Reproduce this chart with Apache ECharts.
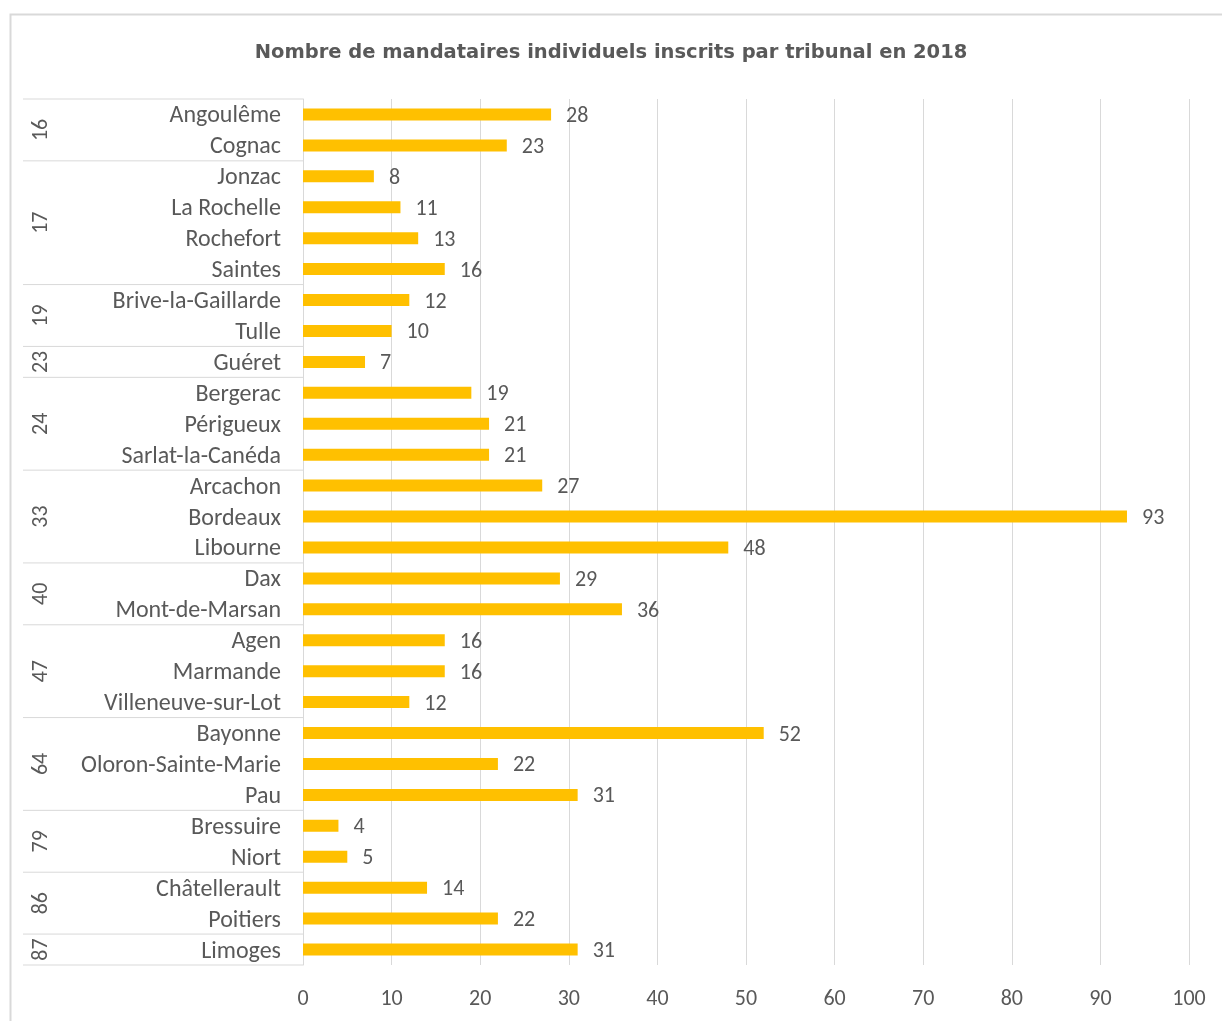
<!DOCTYPE html>
<html>
<head>
<meta charset="utf-8">
<title>Mandataires individuels 2018</title>
<script src="https://cdn.jsdelivr.net/npm/echarts@6/dist/echarts.min.js"></script>
<style>
  html, body { margin: 0; padding: 0; background: #fff; }
  #chart { width: 1222px; height: 1021px; }
</style>
</head>
<body>
<div id="chart"></div>
<script>
// tribunaux, dans l'ordre du graphique (de haut en bas)
const tribunaux = [
  'Angoulême', 'Cognac',
  'Jonzac', 'La Rochelle', 'Rochefort', 'Saintes',
  'Brive-la-Gaillarde', 'Tulle',
  'Guéret',
  'Bergerac', 'Périgueux', 'Sarlat-la-Canéda',
  'Arcachon', 'Bordeaux', 'Libourne',
  'Dax', 'Mont-de-Marsan',
  'Agen', 'Marmande', 'Villeneuve-sur-Lot',
  'Bayonne', 'Oloron-Sainte-Marie', 'Pau',
  'Bressuire', 'Niort',
  'Châtellerault', 'Poitiers',
  'Limoges'
];
const mandataires = [
  28, 23,
  8, 11, 13, 16,
  12, 10,
  7,
  19, 21, 21,
  27, 93, 48,
  29, 36,
  16, 16, 12,
  52, 22, 31,
  4, 5,
  14, 22,
  31
];
// départements et nombre de tribunaux par département
const departements = ['16', '17', '19', '23', '24', '33', '40', '47', '64', '79', '86', '87'];
const tailleGroupes = [2, 4, 2, 1, 3, 3, 2, 3, 3, 2, 2, 1];

const FONT = 'Carlito, Lato, sans-serif';
const GRIS = '#595959';
const LIGNE = '#D9D9D9';
const LARGEUR_LIBELLES = 280;

// [0, premier index, dernier index] pour chaque département
const groupes = [];
let debut = 0;
tailleGroupes.forEach(n => {
  groupes.push([0, debut, debut + n - 1]);
  debut += n;
});

function dessinerGroupe(params, api) {
  const bande = api.size([0, 1])[1];
  const haut = api.coord([0, api.value(1)]);
  const bas = api.coord([0, api.value(2)]);
  const x0 = haut[0];
  const y0 = haut[1] - bande / 2;
  const y1 = bas[1] + bande / 2;
  const enfants = [
    {
      type: 'line',
      shape: { x1: x0 - LARGEUR_LIBELLES, y1: y0, x2: x0, y2: y0 },
      style: { stroke: LIGNE, lineWidth: 1 }
    },
    {
      type: 'text',
      x: x0 - 262,
      y: (y0 + y1) / 2,
      rotation: Math.PI / 2,
      style: {
        text: departements[params.dataIndex],
        x: 0, y: 0,
        align: 'center',
        verticalAlign: 'middle',
        fill: GRIS,
        font: '22px ' + FONT
      }
    }
  ];
  if (params.dataIndex === groupes.length - 1) {
    enfants.push({
      type: 'line',
      shape: { x1: x0 - LARGEUR_LIBELLES, y1: y1, x2: x0, y2: y1 },
      style: { stroke: LIGNE, lineWidth: 1 }
    });
  }
  return { type: 'group', children: enfants };
}

const chart = echarts.init(document.getElementById('chart'));
chart.setOption({
  backgroundColor: '#fff',
  animation: false,
  title: {
    text: 'Nombre de mandataires individuels inscrits par tribunal en 2018',
    left: 'center',
    top: 38,
    textStyle: { color: GRIS, fontSize: 19.5, fontWeight: 'bold', fontFamily: '"DejaVu Sans", sans-serif' }
  },
  graphic: [{
    type: 'rect',
    shape: { x: 10.5, y: 14.5, width: 1300, height: 1100 },
    style: { fill: 'none', stroke: LIGNE, lineWidth: 2 },
    silent: true
  }],
  grid: { left: 303, right: 33, top: 99, bottom: 56 },
  xAxis: {
    type: 'value',
    min: 0,
    max: 100,
    interval: 10,
    axisLine: { show: false },
    axisTick: { show: false },
    axisLabel: { color: GRIS, fontSize: 22, fontFamily: FONT, margin: 23 },
    splitLine: { lineStyle: { color: LIGNE, width: 1 } }
  },
  yAxis: {
    type: 'category',
    inverse: true,
    data: tribunaux,
    axisLine: { show: true, lineStyle: { color: LIGNE, width: 1 } },
    axisTick: { show: false },
    axisLabel: {
      interval: 0,
      hideOverlap: false,
      margin: 22,
      formatter: v => '{t|' + v + '}',
      rich: {
        t: {
          color: GRIS,
          fontSize: 24,
          lineHeight: 24,
          fontFamily: FONT,
          padding: [4, 0, 0, 0]
        }
      }
    }
  },
  series: [
    {
      type: 'bar',
      data: mandataires,
      barWidth: 12,
      itemStyle: { color: '#FFC000' },
      label: {
        show: true,
        position: 'right',
        distance: 15,
        offset: [0, 2],
        color: GRIS,
        fontSize: 22,
        fontFamily: FONT
      }
    },
    {
      type: 'custom',
      data: groupes,
      encode: { x: 0, y: 1 },
      renderItem: dessinerGroupe,
      silent: true,
      z: 3
    }
  ]
});
</script>
</body>
</html>
